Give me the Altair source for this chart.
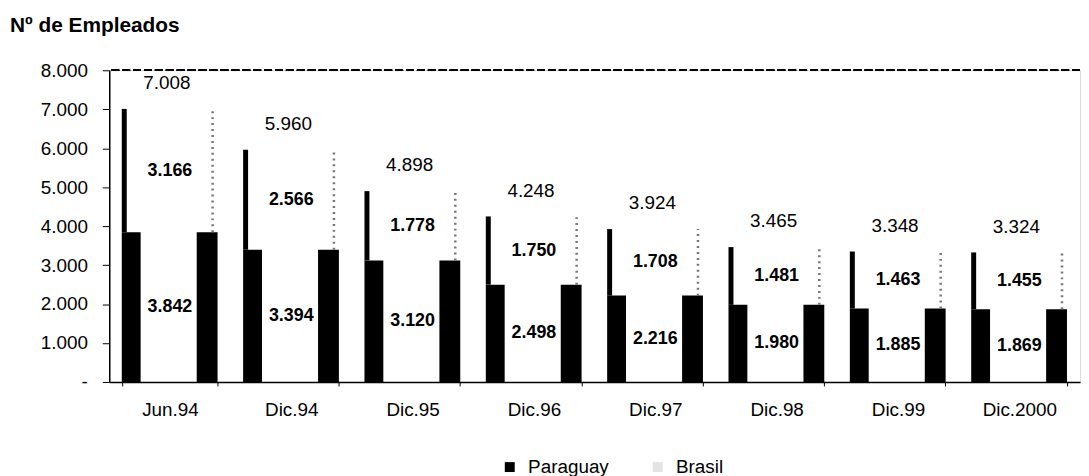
import altair as alt
import pandas as pd

chart_title = "Nº de Empleados"
categories = ["Jun.94", "Dic.94", "Dic.95", "Dic.96", "Dic.97", "Dic.98", "Dic.99", "Dic.2000"]
paraguay = [3842, 3394, 3120, 2498, 2216, 1980, 1885, 1869]
brasil = [3166, 2566, 1778, 1750, 1708, 1481, 1463, 1455]
totals = [7008, 5960, 4898, 4248, 3924, 3465, 3348, 3324]
series = ["Paraguay", "Brasil"]
y_ticks = [0, 1000, 2000, 3000, 4000, 5000, 6000, 7000, 8000]


def fmt(v):
    return f"{v:,}".replace(",", ".")


rows = []
for c, p, b in zip(categories, paraguay, brasil):
    rows.append({"cat": c, "serie": "Paraguay", "y0": 0, "y1": p, "mid": p / 2, "label": fmt(p)})
    rows.append({"cat": c, "serie": "Brasil", "y0": p, "y1": p + b, "mid": p + b / 2, "label": fmt(b)})
df = pd.DataFrame(rows)
tot_df = pd.DataFrame({"cat": categories, "total": totals, "label": [fmt(t) for t in totals]})
title_df = pd.DataFrame({"t": [chart_title]})

FONT = "Liberation Sans"

x_axis = alt.Axis(title=None, labelAngle=0, tickBand="extent", tickSize=4, labelPadding=15,
                  labelFontSize=19, labelFont=FONT, labelColor="black", domainColor="black",
                  domainWidth=1.5, tickColor="black", grid=False)
y_axis = alt.Axis(title=None, values=y_ticks, grid=False, tickSize=7, labelPadding=15,
                  labelFontSize=19, labelFont=FONT, labelColor="black", domainColor="black",
                  domainWidth=1.5, tickColor="black",
                  labelExpr="datum.value == 0 ? '-' : replace(format(datum.value, ','), ',', '.')")
x_scale = alt.Scale(domain=categories, paddingInner=0.22, paddingOuter=0.11)
y_scale = alt.Scale(domain=[0, 8000], nice=False)

X = alt.X("cat:N", sort=categories, scale=x_scale, axis=x_axis)


def Y(field):
    return alt.Y(field, type="quantitative", scale=y_scale, axis=y_axis)


base = alt.Chart(df)

par_left = base.transform_filter(alt.datum.serie == "Paraguay").mark_bar(
    width=19, xOffset=-39, color="black").encode(x=X, y=Y("y0"), y2="y1:Q")
bra_left = base.transform_filter(alt.datum.serie == "Brasil").mark_bar(
    width=5, xOffset=-46, color="black").encode(x=X, y=Y("y0"), y2="y1:Q")
par_right = base.transform_filter(alt.datum.serie == "Paraguay").mark_bar(
    width=21, xOffset=37.5).encode(
    x=X, y=Y("y0"), y2="y1:Q",
    color=alt.Color("serie:N", scale=alt.Scale(domain=series, range=["black", "#e4e4e4"]),
                    legend=alt.Legend(title=None, orient="none", legendX=394, legendY=390,
                                      direction="horizontal", symbolType="square",
                                      symbolSize=100, symbolStrokeWidth=0,
                                      labelFontSize=19, labelFont=FONT, labelColor="black",
                                      labelOffset=9, columnPadding=39)))
bra_right = base.transform_filter(alt.datum.serie == "Brasil").mark_rule(
    xOffset=43, strokeDash=[2, 4], strokeWidth=2.5, color="#777").encode(
    x=X, y=Y("y0"), y2="y1:Q")

top_line = alt.Chart(tot_df).mark_rule(color="black", strokeDash=[8, 3], strokeWidth=1.5).encode(
    y=alt.YDatum(8000, scale=y_scale, axis=y_axis))

seg_labels = base.mark_text(fontSize=18, fontWeight="bold", font=FONT, color="black",
                            baseline="middle").encode(x=X, y=Y("mid"), text="label:N")
tot_labels = alt.Chart(tot_df).mark_text(fontSize=19, font=FONT, color="black", baseline="middle",
                                         dy=-26, dx=-3).encode(x=X, y=Y("total"), text="label:N")

title_mark = alt.Chart(title_df).mark_text(fontSize=21, fontWeight="bold", font=FONT, color="black",
                                           align="left", baseline="alphabetic").encode(
    x=alt.value(-100), y=alt.value(-39), text="t:N")

chart = alt.layer(par_left, bra_left, par_right, bra_right, top_line, seg_labels, tot_labels,
                  title_mark).properties(
    width=978, height=314,
    autosize=alt.AutoSizeParams(type="none"),
    padding={"left": 102, "top": 61, "right": 1, "bottom": 93},
).configure_view(stroke=None).configure(background="white")

chart.save("out.html", embed_options={"renderer": "svg", "actions": False})
